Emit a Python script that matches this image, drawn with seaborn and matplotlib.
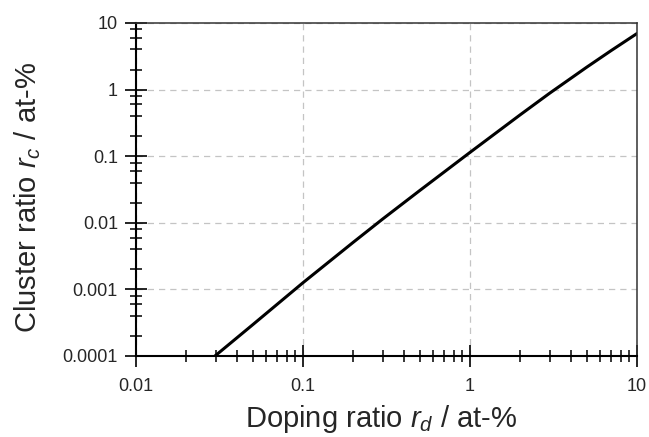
import numpy as np
import pandas as pd
import seaborn as sns
import matplotlib.pyplot as plt
from matplotlib.ticker import LogLocator, FixedLocator, FuncFormatter, NullFormatter

# Dados (razão de dopagem vs razão de clusters)
doping_ratio = [0.0297, 0.05, 0.1, 0.2, 0.3, 0.5, 1.0, 2.0, 3.0, 5.0, 7.0, 10.0]
cluster_ratio = [0.0001, 0.000295, 0.00126, 0.0051, 0.0114, 0.0305, 0.114, 0.419, 0.883, 2.17, 3.85, 6.95]

x_ticks = [0.01, 0.1, 1, 10]
y_ticks = [0.0001, 0.001, 0.01, 0.1, 1, 10]

df = pd.DataFrame({'rd': doping_ratio, 'rc': cluster_ratio})

sns.set_style("white")
plt.rcParams['font.family'] = ['Liberation Sans', 'DejaVu Sans']
plt.rcParams['mathtext.fontset'] = 'custom'
plt.rcParams['mathtext.rm'] = 'Liberation Sans'
plt.rcParams['mathtext.it'] = 'Liberation Sans:italic'

fig = plt.figure(figsize=(6.49, 4.37), dpi=100)
ax = fig.add_axes([0.2096, 0.1854, 0.7719, 0.762])

sns.lineplot(data=df, x='rd', y='rc', color='black', linewidth=2.2, ax=ax)

ax.set_xscale('log')
ax.set_yscale('log')
ax.set_xlim(0.01, 10)
ax.set_ylim(0.0001, 10)

# Ticks principais e secundários
ax.xaxis.set_major_locator(FixedLocator(x_ticks))
ax.yaxis.set_major_locator(FixedLocator(y_ticks))
ax.xaxis.set_minor_locator(LogLocator(base=10, subs=np.arange(2, 10)))
ax.yaxis.set_minor_locator(LogLocator(base=10, subs=[2, 4, 6, 8]))
fmt = FuncFormatter(lambda v, p: '%g' % v)
ax.xaxis.set_major_formatter(fmt)
ax.yaxis.set_major_formatter(fmt)
ax.xaxis.set_minor_formatter(NullFormatter())
ax.yaxis.set_minor_formatter(NullFormatter())

ax.tick_params(which='major', direction='inout', length=16, width=1.2,
               labelsize=13, color='black', bottom=True, left=True,
               top=False, right=False)
ax.tick_params(axis='x', which='major', pad=8)
ax.tick_params(axis='y', which='major', pad=5)
ax.tick_params(which='minor', direction='inout', length=9, width=1.1,
               color='black', bottom=True, left=True, top=False, right=False)

ax.grid(True, which='major', linestyle=(0, (5, 4)), color='#c4c4c4', linewidth=0.9)
ax.grid(False, which='minor')

for side in ['left', 'bottom']:
    ax.spines[side].set_linewidth(1.5)
    ax.spines[side].set_color('black')
for side in ['top', 'right']:
    ax.spines[side].set_linewidth(1.1)
    ax.spines[side].set_color('#333333')

ax.set_xlabel(r'Doping ratio $r_{d}$ / at-%', fontsize=21)
ax.set_ylabel(r'Cluster ratio $r_{c}$ / at-%', fontsize=21)
ax.xaxis.set_label_coords(0.49, -0.14)
ax.yaxis.set_label_coords(-0.185, 0.477)

plt.savefig('out.png', dpi=100)
plt.close()
